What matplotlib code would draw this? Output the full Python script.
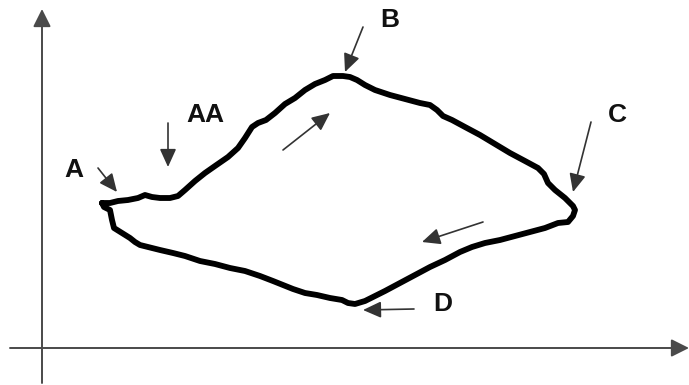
import matplotlib
matplotlib.use("Agg")
import matplotlib.pyplot as plt

# ---- data (diagram coordinates, pixel space, y downward) ----
loop_x = [102, 110, 118, 128, 138, 145, 152, 160, 170, 178, 185, 195, 205, 215, 228, 238, 245, 252,
          258, 266, 275, 285, 295, 305, 315, 325, 333, 343, 350, 357, 365, 375, 390, 405, 420, 430,
          437, 443, 452, 465, 480, 495, 510, 525, 538, 544, 548, 555, 565, 573, 575, 573, 568, 558,
          545, 530, 515, 500, 485, 472, 460, 445, 430, 415, 400, 385, 373, 365, 355, 348, 342, 330,
          317, 305, 293, 283, 273, 260, 245, 230, 215, 200, 185, 173, 160, 148, 140, 135, 130, 122,
          114, 112, 110, 104, 102]
loop_y = [203, 203, 201, 200, 198, 195, 197, 198, 198, 196, 190, 181, 173, 166, 157, 148, 138, 127,
          123, 120, 113, 104, 98, 90, 84, 80, 76, 76, 77, 80, 85, 90, 95, 99, 103, 105,
          110, 116, 120, 127, 135, 144, 153, 161, 168, 174, 183, 190, 198, 206, 210, 216, 222, 223,
          228, 232, 236, 240, 243, 247, 252, 260, 267, 275, 283, 291, 297, 301, 304, 303, 300, 298,
          295, 293, 289, 285, 281, 276, 271, 268, 264, 261, 256, 253, 250, 247, 245, 242, 238, 233,
          228, 220, 210, 207, 203]

labels = ["A", "AA", "B", "C", "D"]
label_x = [74, 205, 390, 617, 443]
label_y = [170, 115, 20, 115, 304]

# pointer arrows: (start_x, start_y, end_x, end_y)
arrow_start_x = [98, 168, 363, 591, 414, 283, 483]
arrow_start_y = [168, 123, 27, 122, 309, 150, 222]
arrow_end_x = [117, 168, 345, 573, 363, 330, 422]
arrow_end_y = [192, 167, 72, 192, 310, 113, 242]

W, H = 689, 385
fig = plt.figure(figsize=(W / 100, H / 100), dpi=100)
ax = fig.add_axes([0, 0, 1, 1])
ax.set_xlim(0, W)
ax.set_ylim(H, 0)
ax.axis("off")

# coordinate axes
axis_props = dict(arrowstyle="-|>,head_length=0.4,head_width=0.2", color="#4a4a4a",
                  lw=1.4, mutation_scale=27, shrinkA=0, shrinkB=0)
ax.annotate("", xy=(42, 9), xytext=(42, 383), arrowprops=axis_props)
ax.annotate("", xy=(689, 348), xytext=(10, 348), arrowprops=axis_props)

# the loop
ax.plot(loop_x, loop_y, color="black", lw=4.2, solid_joinstyle="round", solid_capstyle="round")

# pointer arrows
ptr_props = dict(arrowstyle="-|>,head_length=0.55,head_width=0.25", color="#333333",
                 lw=1.2, mutation_scale=20, shrinkA=0, shrinkB=0)
for sx, sy, ex, ey in zip(arrow_start_x, arrow_start_y, arrow_end_x, arrow_end_y):
    ax.annotate("", xy=(ex, ey), xytext=(sx, sy), arrowprops=ptr_props)

for t, x, y in zip(labels, label_x, label_y):
    ax.text(x, y, t, ha="center", va="center", fontsize=19, fontweight="bold",
            family="Liberation Sans", color="#111111")

fig.savefig("out.png", dpi=100)
